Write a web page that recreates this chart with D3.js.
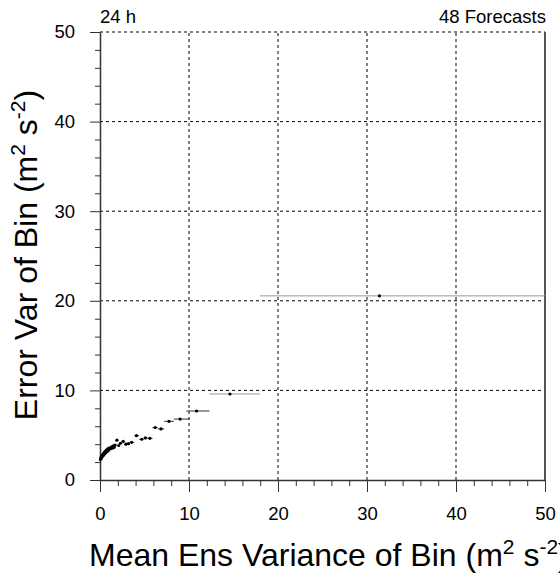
<!DOCTYPE html>
<html lang="en">
<head>
<meta charset="UTF-8">
<title>Error Var vs Mean Ens Variance</title>
<style>
    body { margin: 0; background: #fff; }
    svg text { font-family: "Liberation Sans", Arial, sans-serif; fill: #000; }
    .grid line { stroke: #000; stroke-width: 1; stroke-dasharray: 3,3; }
    .axis path, .axis line { stroke: #333; }
</style>
</head>
<body>
<svg id="chart" width="560" height="574"></svg>

<script src="https://d3js.org/d3.v7.min.js"></script>
<script>
    // bin means (x), error variance of bin (y), horizontal extent of the bin
    const meanVar = [0.05, 0.1, 0.15, 0.2, 0.25, 0.3, 0.35, 0.4, 0.45, 0.5, 0.55, 0.6, 0.65, 0.7,
        0.75, 0.8, 0.85, 0.9, 0.95, 1.0, 1.1, 1.2, 1.3, 1.4, 1.5, 1.6, 1.7, 1.9, 2.1, 2.3, 2.6,
        2.9, 3.2, 3.55, 4.1, 4.7, 5.1, 5.6, 6.2, 6.85, 7.75, 9.0, 10.85, 14.6, 31.4];
    const errVar = [2.3, 2.5, 2.4, 2.7, 2.6, 2.8, 2.9, 2.75, 3.0, 3.1, 2.95, 3.2, 3.05, 3.3,
        3.15, 3.4, 3.25, 3.5, 3.3, 3.45, 3.6, 3.5, 3.7, 3.55, 3.8, 3.65, 3.9, 4.45, 3.85, 4.1, 4.3,
        4.0, 4.05, 4.2, 4.95, 4.55, 4.7, 4.65, 5.85, 5.7, 6.55, 6.8, 7.7, 9.6, 20.55];
    const binLo = [0.0, 0.05, 0.1, 0.15, 0.2, 0.25, 0.3, 0.35, 0.4, 0.45, 0.5, 0.55, 0.6, 0.65,
        0.7, 0.75, 0.8, 0.85, 0.9, 0.95, 1.0, 1.1, 1.2, 1.3, 1.4, 1.5, 1.6, 1.75, 2.0, 2.2, 2.45,
        2.75, 3.05, 3.35, 3.85, 4.4, 4.9, 5.35, 5.9, 6.5, 7.2, 8.3, 9.7, 12.3, 18.0];
    const binHi = [0.1, 0.15, 0.2, 0.25, 0.3, 0.35, 0.4, 0.45, 0.5, 0.55, 0.6, 0.65, 0.7, 0.75,
        0.8, 0.85, 0.9, 0.95, 1.0, 1.05, 1.2, 1.3, 1.4, 1.5, 1.6, 1.7, 1.8, 2.05, 2.2, 2.45, 2.75,
        3.05, 3.35, 3.85, 4.4, 4.9, 5.35, 5.9, 6.5, 7.2, 8.3, 10.1, 12.3, 18.0, 51];

    const majorTicks = [0, 10, 20, 30, 40, 50];
    const minorTicks = [2, 4, 6, 8, 12, 14, 16, 18, 22, 24, 26, 28, 32, 34, 36, 38, 42, 44, 46, 48];
    const gridX = [10, 20, 30, 40];
    const gridY = [10, 20, 30, 40, 50];

    const svg = d3.select('#chart');
    const mLeft = 100, mRight = 545, mTop = 32, mBottom = 480;
    const tickFont = 18.5, titleFont = 32, supFont = 21;

    const x = d3.scaleLinear().domain([0, 50]).range([mLeft, mRight]);
    const y = d3.scaleLinear().domain([0, 50]).range([mBottom, mTop]);

    // grid lines
    const grid = svg.append('g').attr('class', 'grid');
    grid.selectAll('.gx').data(gridX).enter().append('line')
        .attr('x1', d => x(d)).attr('x2', d => x(d))
        .attr('y1', y(0)).attr('y2', y(50));
    grid.selectAll('.gy').data(gridY).enter().append('line')
        .attr('x1', x(0)).attr('x2', x(50))
        .attr('y1', d => y(d)).attr('y2', d => y(d));

    // right border
    svg.append('line')
        .attr('x1', x(50)).attr('x2', x(50))
        .attr('y1', y(50)).attr('y2', y(0))
        .attr('stroke', '#555').attr('stroke-width', 2);

    // minor ticks
    svg.append('g').attr('class', 'axis')
        .attr('transform', `translate(0,${mBottom})`)
        .call(d3.axisBottom(x).tickValues(minorTicks).tickSize(6).tickSizeOuter(0).tickFormat(''))
        .select('.domain').remove();
    svg.append('g').attr('class', 'axis')
        .attr('transform', `translate(${mLeft},0)`)
        .call(d3.axisLeft(y).tickValues(minorTicks).tickSize(5).tickSizeOuter(0).tickFormat(''))
        .select('.domain').remove();

    // major ticks + labels
    const xAxis = svg.append('g').attr('class', 'axis')
        .attr('transform', `translate(0,${mBottom})`)
        .call(d3.axisBottom(x).tickValues(majorTicks).tickSize(12).tickSizeOuter(0).tickPadding(15));
    xAxis.selectAll('text').attr('font-size', tickFont).style('font-family', '"Liberation Sans", Arial, sans-serif');
    xAxis.select('.domain').attr('stroke-width', 1.5);

    const yAxis = svg.append('g').attr('class', 'axis')
        .attr('transform', `translate(${mLeft},0)`)
        .call(d3.axisLeft(y).tickValues(majorTicks).tickSize(10).tickSizeOuter(0).tickPadding(15));
    yAxis.selectAll('text').attr('font-size', tickFont).style('font-family', '"Liberation Sans", Arial, sans-serif');
    yAxis.select('.domain').attr('stroke-width', 1.5);

    // data: bin extent bars and mean points
    const bins = meanVar.map((m, i) => ({ m: m, e: errVar[i], lo: binLo[i], hi: binHi[i] }));
    const plot = svg.append('g');
    plot.selectAll('.bar').data(bins).enter().append('line')
        .attr('x1', d => x(d.lo)).attr('x2', d => x(Math.min(d.hi, 50)))
        .attr('y1', d => y(d.e)).attr('y2', d => y(d.e))
        .attr('stroke', d => d.hi - d.lo > 4 ? '#999' : '#333')
        .attr('stroke-width', 1);
    plot.selectAll('.pt').data(bins).enter().append('circle')
        .attr('cx', d => x(d.m)).attr('cy', d => y(d.e))
        .attr('r', 1.6).attr('fill', '#000');

    // header texts
    svg.append('text').attr('x', 100).attr('y', 23).attr('font-size', tickFont).text('24 h');
    svg.append('text').attr('x', 546).attr('y', 23).attr('font-size', tickFont)
        .attr('text-anchor', 'end').text('48 Forecasts');

    // axis titles (x title runs off the right edge, as in the original)
    const xt = svg.append('text').attr('x', 89).attr('y', 566).attr('font-size', titleFont);
    xt.append('tspan').text('Mean Ens Variance of Bin (m');
    xt.append('tspan').attr('font-size', supFont).attr('dy', -12).text('2');
    xt.append('tspan').attr('dy', 12).text(' s');
    xt.append('tspan').attr('font-size', supFont).attr('dy', -12).text('-2');
    xt.append('tspan').attr('dy', 12).text(')');

    const yt = svg.append('text')
        .attr('transform', 'translate(37,255) rotate(-90)')
        .attr('text-anchor', 'middle').attr('font-size', titleFont);
    yt.append('tspan').text('Error Var of Bin (m');
    yt.append('tspan').attr('font-size', supFont).attr('dy', -12).text('2');
    yt.append('tspan').attr('dy', 12).text(' s');
    yt.append('tspan').attr('font-size', supFont).attr('dy', -12).text('-2');
    yt.append('tspan').attr('dy', 12).text(')');
</script>
</body>
</html>
